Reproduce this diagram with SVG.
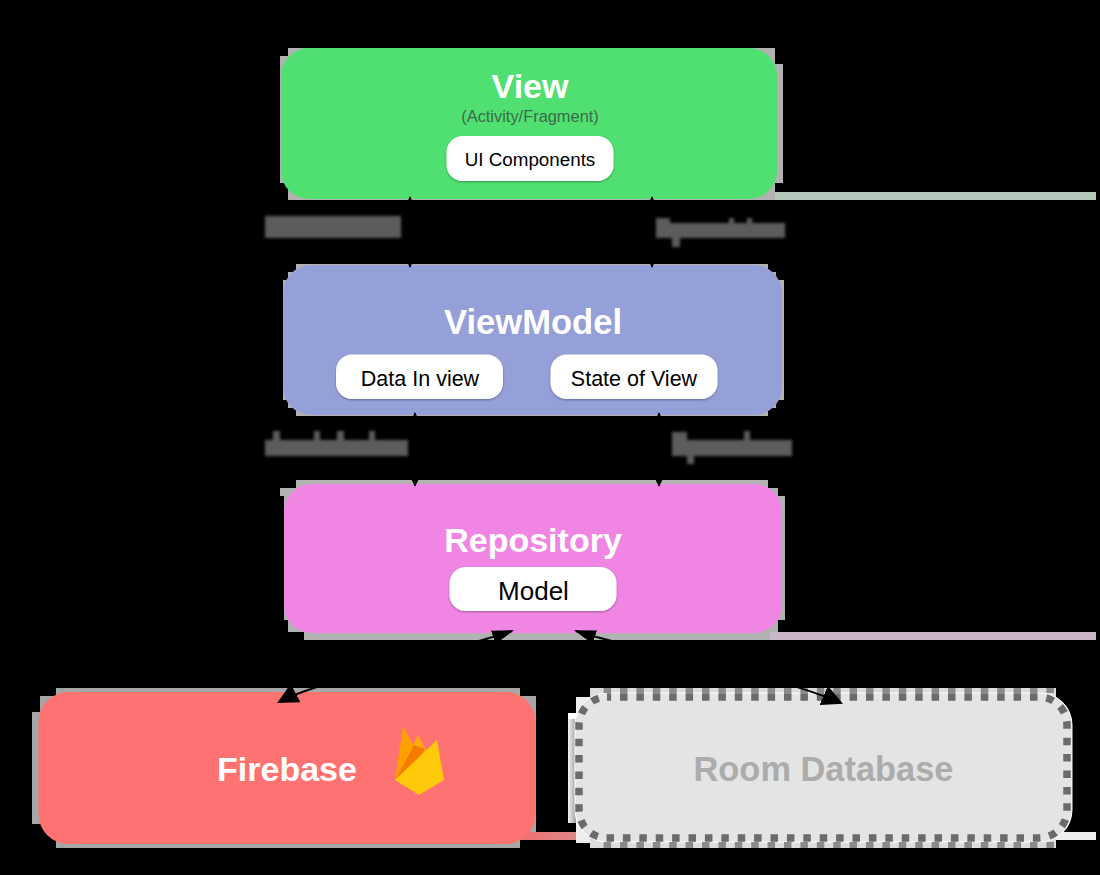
<svg xmlns="http://www.w3.org/2000/svg" width="1100" height="875" viewBox="0 0 1100 875">
<style>
text{font-family:"Liberation Sans",Arial,sans-serif;text-anchor:middle}
.t{font-size:34px;font-weight:700;fill:#fff}
.c{font-size:21.500px;fill:#000}
.chip{fill:#fff;filter:url(#sh)}
.h{fill:#b2b2b2}
.l{fill:#5c5c5c;filter:url(#bl)}
.con{fill:none;stroke:#000;stroke-width:2}
</style>
<defs>
<filter id="sh" x="-10%" y="-20%" width="120%" height="150%"><feDropShadow dx="0" dy="1" stdDeviation="1.2" flood-color="#000" flood-opacity=".35"/></filter>
<filter id="bl" x="-5%" y="-20%" width="110%" height="140%"><feGaussianBlur stdDeviation="1.500"/></filter>
<marker id="a" viewBox="0 0 10 10" refX="9" refY="5" markerWidth="7" markerHeight="7" orient="auto-start-reverse" markerUnits="userSpaceOnUse"><path d="M0 0L10 5L0 10z" fill="#000"/></marker>
<marker id="b" viewBox="0 0 10 10" refX="9" refY="5" markerWidth="21" markerHeight="21" orient="auto" markerUnits="userSpaceOnUse"><path d="M0 0L10 5L0 10z" fill="#000"/></marker>
<marker id="c" viewBox="0 0 10 10" refX="9" refY="5" markerWidth="22" markerHeight="22" orient="auto-start-reverse" markerUnits="userSpaceOnUse"><path d="M0 1.800L10 5L0 8.200z" fill="#000"/></marker>
<linearGradient id="fade" x1="0" x2="1" y1="0" y2="0"><stop offset="0" stop-color="#ee7070"/><stop offset="1" stop-color="#dd8a8a"/></linearGradient>
<linearGradient id="lft" x1="0" x2="1" y1="0" y2="0"><stop offset="0" stop-color="#f4f4f4"/><stop offset="1" stop-color="#a0a0a0"/></linearGradient>
</defs>
<rect width="1100" height="875" fill="#000"/>

<g id="bands">
<rect x="770" y="192" width="326" height="8" fill="#b4c6b9"/>
<rect x="770" y="632" width="326" height="8" fill="#c9b6c7"/>
<rect x="520" y="832" width="62" height="8" fill="url(#fade)"/>
<rect x="1050" y="832" width="46" height="8" fill="#eee"/>
</g>

<g id="view">
<path class="h" d="M288 48H775V64H783V183H775V200H288V183H280V56H288z"/>
<rect x="281" y="48" width="496" height="151" rx="28" fill="#50e072"/>
<text class="t" x="530" y="98">View</text>
<text x="530" y="122" font-size="16.400" fill="#3c6a48">(Activity/Fragment)</text>
<rect class="chip" x="446.500" y="136" width="167" height="45" rx="16"/>
<text x="530" y="165.500" font-size="18.800" fill="#000">UI Components</text>
</g>

<g id="viewmodel">
<path class="h" d="M296 264H768V272H776V280H784V400H776V408H768V416H296V408H288V400H283V280H288V272H296z"/>
<rect x="283" y="265" width="499" height="150" rx="28" fill="#95a0d8"/>
<text x="533" y="334" font-size="34.600" font-weight="700" fill="#fff">ViewModel</text>
<rect class="chip" x="336" y="354.500" width="167" height="44.500" rx="16"/>
<text class="c" x="420" y="385.500">Data In view</text>
<rect class="chip" x="550.500" y="354.500" width="167" height="44.500" rx="16"/>
<text class="c" x="634" y="385.500">State of View</text>
</g>

<g id="repository">
<path class="h" d="M296 480H768V488H778V496H785V620H778V632H770V640H304V632H288V620H284V496H280V488H296z"/>
<rect x="284" y="484" width="498" height="149" rx="28" fill="#f085e4"/>
<text class="t" x="533" y="552">Repository</text>
<rect class="chip" x="449.500" y="567" width="167" height="44" rx="16"/>
<text x="533.500" y="600" font-size="26" fill="#000">Model</text>
</g>

<g id="firebase">
<path d="M56 688H520V696H536V832H520V848H56V824H40V824H32V712H40V696H56z" fill="#a6a6a6"/>
<rect x="38.500" y="692" width="497" height="152" rx="30" fill="#ff7272"/>
<text class="t" x="287" y="781" font-size="33.500">Firebase</text>
<g id="flame">
<path d="M395 780L403 726L416 750L400 776z" fill="#ffa000"/>
<path d="M395 780L418 735L427 751L420 770z" fill="#ffa712"/>
<path d="M395 780L414 745L425 749L418 760z" fill="#f57c00"/>
<path d="M395 780L437 740L444 780L419 795z" fill="#ffca0a"/>
</g>
</g>

<g id="room">
<rect x="590" y="688" width="466" height="160" fill="#dcdcdc"/>
<rect x="568" y="713" width="8" height="110" fill="url(#lft)"/>
<rect x="568" y="713" width="8" height="6" fill="#fff"/>
<rect x="576" y="697" width="14" height="146" fill="#eee"/>
<rect x="575" y="693" width="497" height="149" rx="32" fill="#e4e4e4" stroke="#fff" stroke-width="1"/>
<path d="M603.600 690.500H1056" fill="none" stroke="#8a8a8a" stroke-width="5" stroke-dasharray="7.500 8.900"/>
<path d="M603.600 845H1056" fill="none" stroke="#8a8a8a" stroke-width="6" stroke-dasharray="7.500 8.900"/>
<rect x="579" y="697" width="488" height="141" rx="28" fill="none" stroke="#6b6b6b" stroke-width="7.500" stroke-dasharray="7.500 8.900" stroke-dashoffset="3.400"/>
<text x="823.500" y="781" font-size="34.400" font-weight="700" fill="#acacac">Room Database</text>
</g>

<g id="connectors">
<path class="con" marker-start="url(#a)" marker-end="url(#a)" d="M410 197V267"/>
<path class="con" marker-start="url(#a)" marker-end="url(#a)" d="M652 197V267"/>
<path class="con" marker-start="url(#a)" marker-end="url(#a)" d="M415 413V486"/>
<path class="con" marker-start="url(#a)" marker-end="url(#a)" d="M659 413V486"/>
<path class="con" marker-start="url(#c)" marker-end="url(#b)" d="M512 631C450 652 320 680 279 702"/>
<path class="con" marker-start="url(#c)" marker-end="url(#b)" d="M576 631C640 652 770 672 841 703"/>
</g>

<g id="edge-labels">
<!-- the four edge labels are unreadable smudges in the reference; drawn as smudges, no words invented -->
<path class="l" d="M265 216H401V238H265z"/>
<path class="l" d="M656 218H670V223H729V218H734V223H747V218H752V223H785V238H680V247H672V238H656z"/>
<path class="l" d="M265 440H273V431H280V440H314V431H320V440H337V431H344V440H369V431H375V440H408V456H265z"/>
<path class="l" d="M672 432H687V440H744V431H750V440H792V456H694V464H687V456H672z"/>
</g>
</svg>
